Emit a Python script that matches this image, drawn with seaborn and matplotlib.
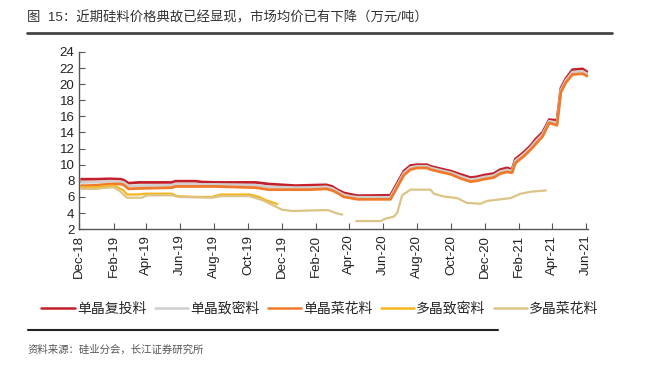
import matplotlib
matplotlib.use("Agg")
import matplotlib.pyplot as plt
import matplotlib.dates as mdates
from matplotlib.lines import Line2D
import pandas as pd
import seaborn as sns

# Silicon material prices (10k CNY / ton)
mono_dates = [
    "2018-12-05", "2018-12-14", "2019-01-01", "2019-01-25", "2019-02-13",
    "2019-02-19", "2019-02-28", "2019-03-18", "2019-05-17", "2019-05-23",
    "2019-06-29", "2019-07-10", "2019-08-04", "2019-10-15", "2019-11-08",
    "2019-12-02", "2019-12-26", "2020-01-20", "2020-02-19", "2020-03-01",
    "2020-03-10", "2020-03-22", "2020-04-04", "2020-04-16", "2020-06-14",
    "2020-06-26", "2020-07-08", "2020-07-20", "2020-08-01", "2020-08-19",
    "2020-08-25", "2020-09-12", "2020-10-01", "2020-10-18", "2020-11-05",
    "2020-11-17", "2020-11-29", "2020-12-17", "2020-12-29", "2021-01-10",
    "2021-01-19", "2021-01-25", "2021-02-10", "2021-02-22", "2021-03-03",
    "2021-03-15", "2021-03-27", "2021-04-10", "2021-04-17", "2021-04-26",
    "2021-05-08", "2021-05-26", "2021-06-04",
]
mono_recharge = [
    8.2, 8.2, 8.2, 8.25, 8.2, 8.1, 7.7, 7.8, 7.8, 7.95,
    7.95, 7.85, 7.8, 7.8, 7.6, 7.5, 7.4, 7.45, 7.5, 7.3,
    6.9, 6.5, 6.3, 6.15, 6.2, 7.7, 9.2, 9.9, 10.0, 10.0,
    9.8, 9.5, 9.2, 8.8, 8.4, 8.5, 8.7, 8.9, 9.4, 9.6,
    9.4, 10.7, 11.6, 12.4, 13.2, 14.0, 15.6, 15.5, 19.5, 20.7,
    21.8, 21.9, 21.5,
]
mono_dense = [
    7.8, 7.8, 7.85, 7.95, 7.9, 7.8, 7.35, 7.4, 7.45, 7.6,
    7.6, 7.55, 7.55, 7.45, 7.25, 7.2, 7.15, 7.15, 7.25, 7.05,
    6.7, 6.25, 6.05, 5.95, 5.95, 7.45, 8.95, 9.65, 9.8, 9.8,
    9.6, 9.3, 9.0, 8.55, 8.15, 8.25, 8.45, 8.65, 9.15, 9.35,
    9.2, 10.45, 11.35, 12.15, 12.9, 13.75, 15.4, 15.2, 19.25, 20.45,
    21.5, 21.6, 21.25,
]
mono_cauli = [
    7.4, 7.4, 7.45, 7.6, 7.6, 7.5, 7.0, 7.05, 7.15, 7.3,
    7.3, 7.3, 7.3, 7.15, 6.9, 6.9, 6.9, 6.9, 7.0, 6.8,
    6.5, 6.0, 5.85, 5.7, 5.7, 7.2, 8.7, 9.4, 9.6, 9.6,
    9.4, 9.1, 8.8, 8.3, 7.9, 8.0, 8.2, 8.4, 8.9, 9.1,
    9.0, 10.2, 11.1, 11.9, 12.6, 13.5, 15.2, 14.9, 19.0, 20.2,
    21.2, 21.3, 21.0,
]

poly_dense_dates = [
    "2018-12-05", "2019-01-01", "2019-01-20", "2019-02-01", "2019-02-11",
    "2019-02-19", "2019-02-25", "2019-03-18", "2019-03-30", "2019-05-17",
    "2019-05-26", "2019-06-29", "2019-07-29", "2019-08-13", "2019-10-04",
    "2019-10-21", "2019-11-02", "2019-11-23",
]
poly_dense = [
    7.2, 7.2, 7.35, 7.4, 7.1, 6.8, 6.3, 6.3, 6.4, 6.4,
    6.1, 6.0, 6.0, 6.3, 6.3, 6.0, 5.6, 5.1,
]

# poly cauliflower has a gap in spring 2020
poly_cauli_dates_a = [
    "2018-12-05", "2019-01-01", "2019-01-20", "2019-02-01", "2019-02-11",
    "2019-02-25", "2019-03-24", "2019-04-02", "2019-05-17", "2019-05-29",
    "2019-07-29", "2019-08-13", "2019-10-04", "2019-10-27", "2019-11-14",
    "2019-12-02", "2019-12-20", "2020-02-12", "2020-02-23", "2020-03-07",
    "2020-03-19",
]
poly_cauli_a = [
    7.0, 7.0, 7.15, 7.2, 6.8, 5.9, 5.9, 6.2, 6.2, 6.0,
    5.9, 6.1, 6.1, 5.6, 5.0, 4.4, 4.25, 4.35, 4.35, 4.0,
    3.8,
]
poly_cauli_dates_b = [
    "2020-04-13", "2020-05-27", "2020-06-05", "2020-06-20", "2020-06-26",
    "2020-07-05", "2020-07-20", "2020-08-25", "2020-08-31", "2020-09-18",
    "2020-10-12", "2020-10-30", "2020-11-23", "2020-12-05", "2020-12-29",
    "2021-01-16", "2021-02-04", "2021-02-22", "2021-03-21",
]
poly_cauli_b = [
    3.0, 3.0, 3.3, 3.55, 4.0, 6.2, 6.9, 6.9, 6.4, 6.05,
    5.85, 5.25, 5.15, 5.5, 5.7, 5.85, 6.4, 6.65, 6.8,
]

series_names = ["单晶复投料", "单晶致密料", "单晶菜花料", "多晶致密料", "多晶菜花料"]
colors = ["#c3202b", "#cfcfcf", "#f07a2c", "#f6b51e", "#dcc486"]
widths = [2.0, 2.0, 2.0, 1.6, 1.6]

parts = [
    (series_names[0], "a", mono_dates, mono_recharge),
    (series_names[1], "a", mono_dates, mono_dense),
    (series_names[2], "a", mono_dates, mono_cauli),
    (series_names[3], "a", poly_dense_dates, poly_dense),
    (series_names[4], "a", poly_cauli_dates_a, poly_cauli_a),
    (series_names[4], "b", poly_cauli_dates_b, poly_cauli_b),
]
rows = []
for name, seg, ds, vs in parts:
    for d, v in zip(ds, vs):
        rows.append((d, v, name, name + seg))
df = pd.DataFrame(rows, columns=["date", "value", "series", "segment"])
df["date"] = pd.to_datetime(df["date"])

sns.set_style("ticks")
plt.rcParams["font.family"] = ["Liberation Sans", "Noto Sans CJK SC"]

fig = plt.figure(figsize=(6.6, 3.66), dpi=100)
ax = fig.add_axes([0.12, 0.374, 0.771, 0.484])

for name, c, lw in zip(series_names, colors, widths):
    sub = df[df["series"] == name]
    sns.lineplot(data=sub, x="date", y="value", units="segment", estimator=None,
                 color=c, linewidth=lw, ax=ax, legend=False)

ax.set_ylim(2, 24)
ax.set_yticks(range(2, 25, 2))
ax.set_xlim(pd.Timestamp("2018-12-01"), pd.Timestamp("2021-06-05"))
ax.set_xticks(pd.date_range("2018-12-01", "2021-06-01", freq="2MS"))
ax.xaxis.set_major_formatter(mdates.DateFormatter("%b-%y"))
ax.set_xlabel("")
ax.set_ylabel("")
ax.tick_params(axis="both", direction="in", length=4, color="#555555",
               labelsize=9.5, labelcolor="#222222")
ax.tick_params(axis="x", rotation=90, pad=4)
for s in ("left", "bottom"):
    ax.spines[s].set_color("#555555")
    ax.spines[s].set_linewidth(1.0)
sns.despine(ax=ax)

handles = [Line2D([], [], color=c, linewidth=1.8) for c in colors]
fig.legend(handles, series_names, loc="center", bbox_to_anchor=(0.485, 0.156),
           ncol=5, frameon=False, fontsize=10, handlelength=2.4,
           handletextpad=0.15, columnspacing=0.6)

fig.text(0.041, 0.951, "图  15：近期硅料价格典故已经显现，市场均价已有下降（万元/吨）",
         fontsize=9.6, color="#333333", va="center", ha="left")
fig.add_artist(Line2D([0.041, 0.927], [0.91, 0.91], color="#444444", linewidth=2.0))
fig.add_artist(Line2D([0.042, 0.755], [0.098, 0.098], color="#222222", linewidth=1.5))
fig.text(0.041, 0.044, "资料来源：硅业分会，长江证券研究所", fontsize=7.5,
         color="#555555", va="center", ha="left")

fig.savefig("out.png", dpi=100)
